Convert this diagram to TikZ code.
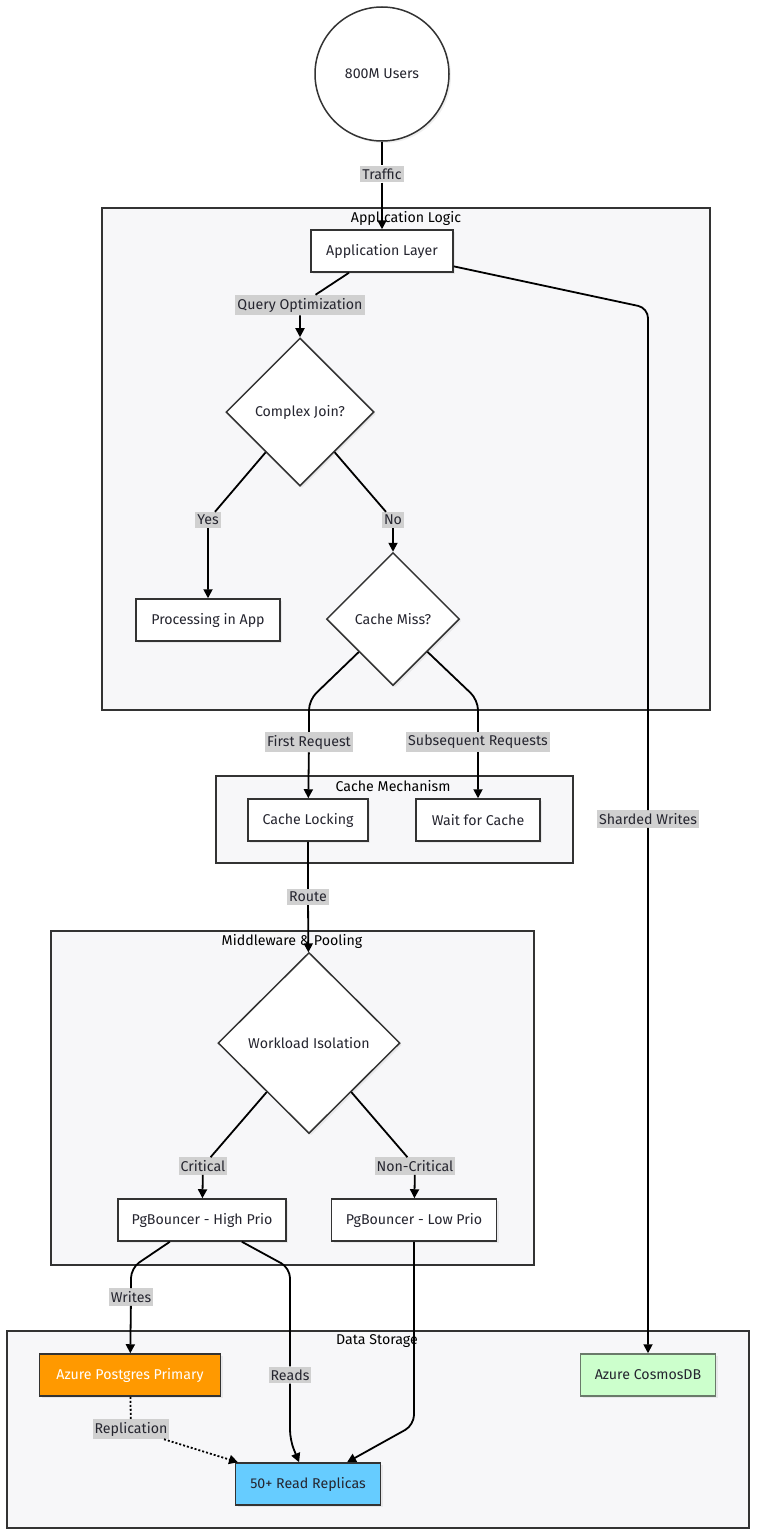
\documentclass[tikz,border=0pt]{standalone}
\usepackage{fontspec}
\setmainfont{Fira Sans}
\usetikzlibrary{shapes.geometric,arrows.meta,shadows}
\definecolor{ink}{HTML}{333333}
\definecolor{txt}{HTML}{25252F}
\definecolor{clfill}{HTML}{F7F7F9}
\definecolor{lblbg}{HTML}{D0D0D0}
\definecolor{pgorange}{HTML}{FF9900}
\definecolor{cosmosfill}{HTML}{CCFFCC}
\definecolor{cosmosdraw}{HTML}{6A7A6A}
\definecolor{replicafill}{HTML}{66CCFF}
\begin{document}
\begin{tikzpicture}[x=1pt,y=-1pt,
  font=\fontsize{14.2pt}{16pt}\selectfont, text=txt,
  shade/.style={drop shadow={opacity=0.12,shadow xshift=2pt,shadow yshift=-2pt}},
  box/.style={draw=ink, line width=1.5pt, fill=white, minimum height=42pt, inner sep=0pt, shade},
  dia/.style={diamond, draw=ink, line width=1.5pt, fill=white, inner sep=0pt, shade},
  cluster/.style={draw=ink, line width=1.2pt, fill=clfill},
  cltitle/.style={text=black},
  lbl/.style={fill=lblbg, inner xsep=2pt, inner ysep=3pt, text=txt},
  arr/.style={line width=1.8pt, draw=black, -{Triangle[length=9pt,width=9pt]}, rounded corners=10pt},
  ]
\useasboundingbox[fill=white] (0,0) rectangle (756,1536);

% clusters
\draw[cluster] (102,208) rectangle (710,710);
\node[cltitle] (tApp) at (406,218) {Application Logic};
\draw[cluster] (216,776) rectangle (573,863);
\node[cltitle] (tCache) at (393,786) {Cache Mechanism};
\draw[cluster] (51,931) rectangle (534,1265);
\node[cltitle] (tMid) at (292,941) {Middleware \& Pooling};
\draw[cluster] (7,1331) rectangle (749,1528);
\node[cltitle] (tData) at (377,1341) {Data Storage};

% nodes
\node[circle, draw=ink, line width=1.5pt, fill=white, minimum size=134pt, inner sep=0pt, shade] (users) at (382,74) {800M Users};
\node[box, minimum width=142pt] (app) at (382,251) {Application Layer};
\node[dia, minimum width=148pt, minimum height=148pt] (cj) at (300,412) {Complex Join?};
\node[box, minimum width=144pt] (proc) at (208,620) {Processing in App};
\node[dia, minimum width=133pt, minimum height=133pt] (cm) at (393,619) {Cache Miss?};
\node[box, minimum width=120pt] (cl) at (308,820) {Cache Locking};
\node[box, minimum width=124pt] (wc) at (478,820) {Wait for Cache};
\node[dia, minimum width=182pt, minimum height=181pt] (wi) at (309,1043) {Workload Isolation};
\node[box, minimum width=168pt] (hp) at (202,1220) {PgBouncer - High Prio};
\node[box, minimum width=165pt] (lp) at (414,1220) {PgBouncer - Low Prio};
\node[box, fill=pgorange, text=white, minimum width=181pt] (pg) at (130,1375) {Azure Postgres Primary};
\node[box, fill=cosmosfill, draw=cosmosdraw, minimum width=135pt] (cos) at (648,1375) {Azure CosmosDB};
\node[box, fill=replicafill, minimum width=145pt] (rep) at (308,1484) {50+ Read Replicas};

% edge labels
\node[lbl] (traffic) at (382,174) {Traffic};
\node[lbl] (qo) at (300,305) {Query Optimization};
\node[lbl] (yes) at (208,520) {Yes};
\node[lbl] (no) at (393,520) {No};
\node[lbl] (fr) at (309,742) {First Request};
\node[lbl] (sr) at (478,742) {Subsequent Requests};
\node[lbl] (route) at (308,897) {Route};
\node[lbl] (sw) at (648,819) {Sharded Writes};
\node[lbl] (crit) at (203,1166) {Critical};
\node[lbl] (ncrit) at (415,1166) {Non-Critical};
\node[lbl] (writes) at (131,1297) {Writes};
\node[lbl] (reads) at (290,1375) {Reads};
\node[lbl] (repl) at (131,1429) {Replication};

% bend points
\coordinate (fr1) at (309,700);
\coordinate (sr1) at (478,700);
\coordinate (sw1) at (648,308);
\coordinate (w1) at (131,1268);
\coordinate (r1) at (290,1268);
\coordinate (r2) at (290,1440);
\coordinate (l1) at (414,1425);

% edges
\draw[arr] (users) -- (traffic) -- (app);
\draw[arr] (app) -- (qo) -- (cj);
\draw[arr] (cj) -- (yes) -- (proc);
\draw[arr] (cj) -- (no) -- (cm);
\draw[arr] (cm) -- (fr1) -- (fr) -- (cl);
\draw[arr] (cm) -- (sr1) -- (sr) -- (wc);
\draw[arr] (cl) -- (route) -- (wi);
\draw[arr] (app) -- (sw1) -- (sw) -- (cos);
\draw[arr] (wi) -- (crit) -- (hp);
\draw[arr] (wi) -- (ncrit) -- (lp);
\draw[arr] (hp) -- (w1) -- (writes) -- (pg);
\draw[arr] (hp) -- (r1) -- (reads) -- (r2) -- (rep);
\draw[arr] (lp) -- (l1) -- (rep);
\draw[arr, dash pattern=on 2pt off 2pt] (pg) -- (repl) -- (rep);
\end{tikzpicture}
\end{document}
